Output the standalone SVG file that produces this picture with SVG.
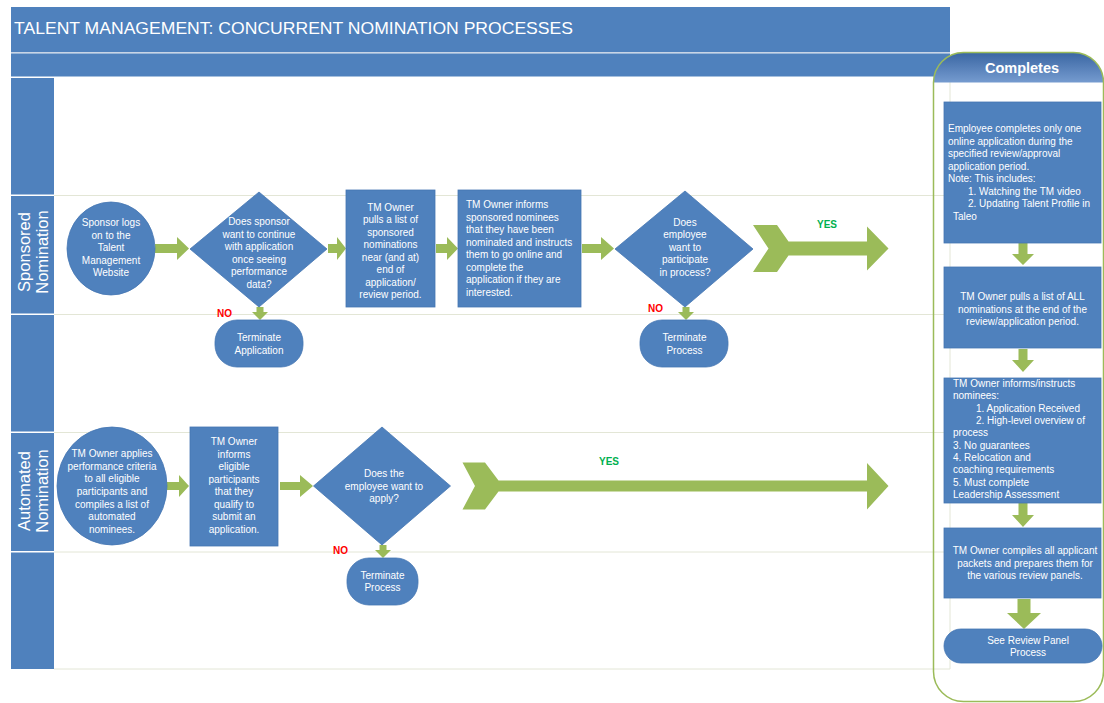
<svg xmlns="http://www.w3.org/2000/svg" width="1104" height="703" viewBox="0 0 1104 703">
  <defs>
    <linearGradient id="hdrGrad" x1="0" y1="0" x2="0" y2="1">
      <stop offset="0" stop-color="#3a66a3"/>
      <stop offset="1" stop-color="#759bcf"/>
    </linearGradient>
    <clipPath id="panelClip">
      <rect x="933.5" y="52.5" width="170" height="649" rx="30" ry="30"/>
    </clipPath>
    <style>
      .bar{fill:#4f81bd}
      .grid{stroke:#e3e6d6;stroke-width:1;fill:none}
      .shape{fill:#4f81bd;stroke:#4576b2;stroke-width:0.8}
      .arrow{fill:#9bbb59}
      .t{font-family:"Liberation Sans",Arial,sans-serif;font-size:10px;fill:#ffffff}
      .c{text-anchor:middle}
      .title{font-family:"Liberation Sans",Arial,sans-serif;font-size:17px;fill:#ffffff}
      .lanelbl{font-family:"Liberation Sans",Arial,sans-serif;font-size:16.5px;fill:#ffffff;text-anchor:middle}
      .yes{font-family:"Liberation Sans",Arial,sans-serif;font-size:10px;font-weight:bold;fill:#00b050}
      .no{font-family:"Liberation Sans",Arial,sans-serif;font-size:10px;font-weight:bold;fill:#ff0000}
      .hdr{font-family:"Liberation Sans",Arial,sans-serif;font-size:14.5px;font-weight:bold;fill:#ffffff;text-anchor:middle}
    </style>
  </defs>

  <rect x="0" y="0" width="1104" height="703" fill="#ffffff"/>

  <!-- swimlane frame -->
  <g id="frame">
    <rect class="bar" x="11" y="7" width="939" height="45"/>
    <rect x="11" y="52" width="939" height="1.5" fill="#c9d5e6"/>
    <rect class="bar" x="11" y="53.5" width="939" height="23"/>
    <text class="title" x="14" y="34" textLength="559" lengthAdjust="spacingAndGlyphs">TALENT MANAGEMENT: CONCURRENT NOMINATION PROCESSES</text>

    <rect class="bar" x="11" y="78" width="43" height="591"/>
    <g fill="#ffffff">
      <rect x="11" y="194.5" width="43" height="1.5"/>
      <rect x="11" y="313.5" width="43" height="1.5"/>
      <rect x="11" y="431.5" width="43" height="1.5"/>
      <rect x="11" y="551" width="43" height="1.5"/>
    </g>
    <g transform="translate(32,252) rotate(-90)">
      <text class="lanelbl" x="0" y="-2">Sponsored</text>
      <text class="lanelbl" x="0" y="16">Nomination</text>
    </g>
    <g transform="translate(32,491) rotate(-90)">
      <text class="lanelbl" x="0" y="-2">Automated</text>
      <text class="lanelbl" x="0" y="16">Nomination</text>
    </g>

    <path class="grid" d="M54,195.5 H950 M54,314.5 H950 M54,432.5 H950 M54,552 H950 M54,669 H950 M950,77 V669"/>
  </g>

  <!-- Completes column -->
  <g id="completes-panel">
    <rect x="933.5" y="52.5" width="170" height="30" fill="url(#hdrGrad)" clip-path="url(#panelClip)"/>
    <rect x="933.5" y="52.5" width="170" height="649" rx="30" ry="30" fill="none" stroke="#9bbb59" stroke-width="1.5"/>
    <text class="hdr" x="1022" y="73">Completes</text>
  </g>

  <!-- connectors -->
  <g id="connectors">
    <path class="arrow" d="M155,244 H177 V237 L189,248.5 L177,260 V253 H155 Z"/>
    <path class="arrow" d="M328,244 H337 V237 L346,248.5 L337,260 V253 H328 Z"/>
    <path class="arrow" d="M436,244 H447 V237 L458,248.5 L447,260 V253 H436 Z"/>
    <path class="arrow" d="M582,244 H601 V237 L614,248.5 L601,260 V253 H582 Z"/>
    <path class="arrow" d="M753,225 L777,225 L788.5,241.5 L867,241.5 L867,226.5 L888.5,248.5 L867,270.5 L867,255.5 L788.5,255.5 L777,272 L753,272 L768.5,248.5 Z"/>
    <path class="arrow" d="M256.5,307 V312 H252 L260,320 L268,312 H263.5 V307 Z"/>
    <path class="arrow" d="M682.5,307 V312 H678 L686,320 L694,312 H689.5 V307 Z"/>

    <path class="arrow" d="M167,482 H179 V475 L189,486 L179,497 V490 H167 Z"/>
    <path class="arrow" d="M280,482 H300 V475 L313,486 L300,497 V490 H280 Z"/>
    <path class="arrow" d="M462.5,462.5 L485,462.5 L498.5,480.5 L867,480.5 L867,463 L888.5,486 L867,509.5 L867,491.5 L498.5,491.5 L485,509.5 L462.5,509.5 L475,486 Z"/>
    <path class="arrow" d="M379.5,545 V550 H375 L383,558 L391,550 H386.5 V545 Z"/>

    <path class="arrow" d="M1018.5,243 V254 H1012 L1023,265 L1034,254 H1027.5 V243 Z"/>
    <path class="arrow" d="M1018.5,349 V360 H1012 L1023,372 L1034,360 H1027.5 V349 Z"/>
    <path class="arrow" d="M1018.5,503 V515 H1012 L1023,527 L1034,515 H1027.5 V503 Z"/>
    <path class="arrow" d="M1017.5,599 V613 H1007 L1024,629 L1041,613 H1030.5 V599 Z"/>

    <text class="yes" x="817" y="228">YES</text>
    <text class="no" x="217" y="317">NO</text>
    <text class="no" x="648" y="312">NO</text>
    <text class="yes" x="599" y="465">YES</text>
    <text class="no" x="333" y="554">NO</text>
  </g>

  <!-- Sponsored nomination lane -->
  <g id="n-sponsor-login">
    <ellipse class="shape" cx="111" cy="248.5" rx="44" ry="46.5"/>
    <text class="t c" x="111" y="226">Sponsor logs</text>
    <text class="t c" x="111" y="238.5">on to the</text>
    <text class="t c" x="111" y="251">Talent</text>
    <text class="t c" x="111" y="263.5">Management</text>
    <text class="t c" x="111" y="276">Website</text>
  </g>

  <g id="n-sponsor-decision">
    <polygon class="shape" points="190,249 259,192 327,249 259,307"/>
    <text class="t c" x="259" y="225">Does sponsor</text>
    <text class="t c" x="259" y="237.5">want to continue</text>
    <text class="t c" x="259" y="250">with application</text>
    <text class="t c" x="259" y="262.5">once seeing</text>
    <text class="t c" x="259" y="275">performance</text>
    <text class="t c" x="259" y="287.5">data?</text>
  </g>

  <g id="n-pull-list">
    <rect class="shape" x="346" y="190" width="89" height="117"/>
    <text class="t c" x="390.5" y="210.5">TM Owner</text>
    <text class="t c" x="390.5" y="223">pulls a list of</text>
    <text class="t c" x="390.5" y="235.5">sponsored</text>
    <text class="t c" x="390.5" y="248">nominations</text>
    <text class="t c" x="390.5" y="260.5">near (and at)</text>
    <text class="t c" x="390.5" y="273">end of</text>
    <text class="t c" x="390.5" y="285.5">application/</text>
    <text class="t c" x="390.5" y="298">review period.</text>
  </g>

  <g id="n-inform-sponsored">
    <rect class="shape" x="458" y="190" width="123" height="117"/>
    <text class="t" x="466" y="208">TM Owner informs</text>
    <text class="t" x="466" y="220.5">sponsored nominees</text>
    <text class="t" x="466" y="233">that they have been</text>
    <text class="t" x="466" y="245.5">nominated and instructs</text>
    <text class="t" x="466" y="258">them to go online and</text>
    <text class="t" x="466" y="270.5">complete the</text>
    <text class="t" x="466" y="283">application if they are</text>
    <text class="t" x="466" y="295.5">interested.</text>
  </g>

  <g id="n-employee-decision">
    <polygon class="shape" points="615,249 685,191 753,249 685,307"/>
    <text class="t c" x="685" y="225.5">Does</text>
    <text class="t c" x="685" y="238">employee</text>
    <text class="t c" x="685" y="250.5">want to</text>
    <text class="t c" x="685" y="263">participate</text>
    <text class="t c" x="685" y="275.5">in process?</text>
  </g>

  <g id="n-terminate-application">
    <rect class="shape" x="215" y="320" width="88" height="47" rx="22" ry="22"/>
    <text class="t c" x="259" y="341">Terminate</text>
    <text class="t c" x="259" y="354">Application</text>
  </g>

  <g id="n-terminate-process-sponsored">
    <rect class="shape" x="640" y="320" width="88" height="47" rx="22" ry="22"/>
    <text class="t c" x="684.5" y="341">Terminate</text>
    <text class="t c" x="684.5" y="354">Process</text>
  </g>

  <!-- Automated nomination lane -->
  <g id="n-auto-criteria">
    <ellipse class="shape" cx="112" cy="486" rx="55" ry="59"/>
    <text class="t c" x="112" y="457">TM Owner applies</text>
    <text class="t c" x="112" y="469.7">performance criteria</text>
    <text class="t c" x="112" y="482.3">to all eligible</text>
    <text class="t c" x="112" y="495">participants and</text>
    <text class="t c" x="112" y="507.7">compiles a list of</text>
    <text class="t c" x="112" y="520.3">automated</text>
    <text class="t c" x="112" y="533">nominees.</text>
  </g>

  <g id="n-auto-inform">
    <rect class="shape" x="190" y="427" width="88" height="119"/>
    <text class="t c" x="234" y="445">TM Owner</text>
    <text class="t c" x="234" y="457.5">informs</text>
    <text class="t c" x="234" y="470">eligible</text>
    <text class="t c" x="234" y="482.5">participants</text>
    <text class="t c" x="234" y="495">that they</text>
    <text class="t c" x="234" y="507.5">qualify to</text>
    <text class="t c" x="234" y="520">submit an</text>
    <text class="t c" x="234" y="532.5">application.</text>
  </g>

  <g id="n-auto-decision">
    <polygon class="shape" points="313.5,486 382,427 450.5,486 382,545"/>
    <text class="t c" x="384" y="477">Does the</text>
    <text class="t c" x="384" y="489.5">employee want to</text>
    <text class="t c" x="384" y="502">apply?</text>
  </g>

  <g id="n-terminate-process-automated">
    <rect class="shape" x="347" y="558" width="71" height="47" rx="22" ry="22"/>
    <text class="t c" x="382.5" y="579">Terminate</text>
    <text class="t c" x="382.5" y="591">Process</text>
  </g>

  <!-- Completes column steps -->
  <g id="c-complete-application">
    <rect class="shape" x="944" y="102" width="157" height="141"/>
    <text class="t" x="948" y="132">Employee completes only one</text>
    <text class="t" x="948" y="144.6">online application during the</text>
    <text class="t" x="948" y="157.1">specified review/approval</text>
    <text class="t" x="948" y="169.7">application period.</text>
    <text class="t" x="948" y="182.3">Note: This includes:</text>
    <text class="t" x="968" y="194.9">1. Watching the TM  video</text>
    <text class="t" x="968" y="207.4">2. Updating Talent Profile in</text>
    <text class="t" x="953" y="220">Taleo</text>
  </g>

  <g id="c-pull-all">
    <rect class="shape" x="944" y="267" width="157" height="81"/>
    <text class="t c" x="1022.5" y="300">TM Owner pulls  a list of ALL</text>
    <text class="t c" x="1022.5" y="312.5">nominations at the end of the</text>
    <text class="t c" x="1022.5" y="325">review/application period.</text>
  </g>

  <g id="c-inform-nominees">
    <rect class="shape" x="944" y="378" width="157" height="125"/>
    <text class="t" x="953" y="387">TM Owner informs/instructs</text>
    <text class="t" x="953" y="399">nominees:</text>
    <text class="t" x="976" y="411.5">1. Application Received</text>
    <text class="t" x="976" y="424">2. High-level  overview of</text>
    <text class="t" x="953" y="436">process</text>
    <text class="t" x="953" y="448.5">3. No guarantees</text>
    <text class="t" x="953" y="461">4. Relocation and</text>
    <text class="t" x="953" y="473">coaching requirements</text>
    <text class="t" x="953" y="485.5">5. Must complete</text>
    <text class="t" x="953" y="498">Leadership Assessment</text>
  </g>

  <g id="c-compile-packets">
    <rect class="shape" x="944" y="528" width="157" height="70"/>
    <text class="t c" x="1025" y="554">TM Owner compiles all applicant</text>
    <text class="t c" x="1025" y="566.5">packets and prepares them for</text>
    <text class="t c" x="1025" y="579">the various review panels.</text>
  </g>

  <g id="c-review-panel">
    <rect class="shape" x="944" y="629" width="158" height="34" rx="17" ry="17"/>
    <text class="t c" x="1028" y="644">See Review Panel</text>
    <text class="t c" x="1028" y="655.5">Process</text>
  </g>
</svg>
